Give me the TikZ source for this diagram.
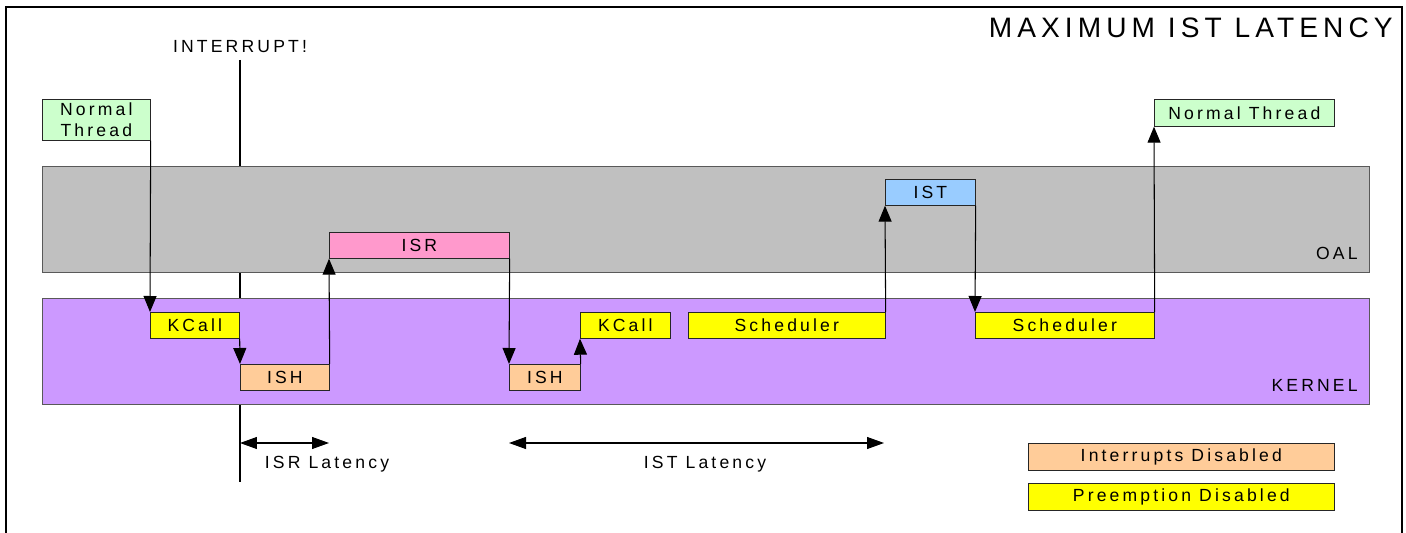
\documentclass[tikz,border=0pt]{standalone}
\usepackage{fontspec}
\setmainfont{Liberation Sans}[LetterSpace=18]
\usepackage{xcolor}
\usepackage{tikz}
\usetikzlibrary{arrows.meta,positioning}

\definecolor{oalgray}{HTML}{C0C0C0}
\definecolor{kernpurple}{HTML}{CC99FF}
\definecolor{preempt}{HTML}{FFFF00}
\definecolor{intoff}{HTML}{FFCC99}
\definecolor{isrpink}{HTML}{FF99CC}
\definecolor{istblue}{HTML}{99CCFF}
\definecolor{thrgreen}{HTML}{CCFFCC}

\begin{document}
\begin{tikzpicture}[x=0.02cm, y=-0.02cm,
  band/.style={rectangle, draw=black!65, anchor=north west, inner sep=0pt, minimum width=26.54cm, minimum height=2.12cm},
  blk/.style={rectangle, draw=black!85, anchor=north west, inner sep=0pt, minimum height=0.52cm, align=center, font=\fontsize{10}{12}\selectfont},
  lbl/.style={inner sep=0pt, font=\fontsize{10}{12}\selectfont},
  arr/.style={-{Triangle[length=0.32cm, width=0.26cm]}, line width=0.6pt},
  span/.style={{Triangle[length=0.34cm, width=0.24cm]}-{Triangle[length=0.34cm, width=0.24cm]}, line width=0.6pt}
]
\useasboundingbox (0,0) rectangle (1406,533);
\draw[line width=0.8pt] (6,533) -- (6,7) -- (1402,7) -- (1402,533);
\node[anchor=east, inner sep=0pt, font=\fontsize{16}{19}\selectfont] (title) at (1393,28) {MAXIMUM IST LATENCY};

\node[lbl] (irq) at (240,47) {INTERRUPT!};
\coordinate (irqtop) at (240,60);
\coordinate (irqbot) at (240,482);
\draw[line width=0.6pt] (irqtop) -- (irqbot);

\node[band, fill=oalgray] (oal) at (42,166) {};
\node[band, fill=kernpurple] (kernel) at (42,298) {};
\node[lbl, anchor=base east] (oallbl) at (1358,260) {OAL};
\node[lbl, anchor=base east] (kernlbl) at (1358,392) {KERNEL};

\node[blk, fill=thrgreen, minimum width=2.16cm, minimum height=0.82cm] (nt1) at (42,99) {Normal\\Thread};
\node[blk, fill=preempt, minimum width=1.78cm] (kc1) at (150,312) {KCall};
\node[blk, fill=intoff, minimum width=1.78cm] (ish1) at (240,364) {ISH};
\node[blk, fill=isrpink, minimum width=3.6cm] (isr) at (329,232) {ISR};
\node[blk, fill=intoff, minimum width=1.42cm] (ish2) at (509,364) {ISH};
\node[blk, fill=preempt, minimum width=1.8cm] (kc2) at (580,312) {KCall};
\node[blk, fill=preempt, minimum width=3.94cm] (sch1) at (688,312) {Scheduler};
\node[blk, fill=istblue, minimum width=1.8cm] (ist) at (885,179) {IST};
\node[blk, fill=preempt, minimum width=3.58cm] (sch2) at (975,312) {Scheduler};
\node[blk, fill=thrgreen, minimum width=3.6cm, minimum height=0.54cm] (nt2) at (1154,99) {Normal Thread};

\draw[arr] (nt1.south east) -- (kc1.north west);
\draw[arr] (kc1.south east) -- (ish1.north west);
\draw[arr] (ish1.north east) -- (isr.south west);
\draw[arr] (isr.south east) -- (ish2.north west);
\draw[arr] (ish2.north east) -- (kc2.south west);
\draw[arr] (sch1.north east) -- (ist.south west);
\draw[arr] (ist.south east) -- (sch2.north west);
\draw[arr] (sch2.north east) -- (nt2.south west);

\coordinate (isrl0) at (240,443);
\coordinate (isrl1) at (329,443);
\coordinate (istl0) at (509,443);
\coordinate (istl1) at (884,443);
\draw[span] (isrl0) -- (isrl1);
\draw[span] (istl0) -- (istl1);
\node[lbl] (isrlat) at (327,464) {ISR Latency};
\node[lbl] (istlat) at (705,464) {IST Latency};

\node[blk, fill=intoff, minimum width=6.12cm, minimum height=0.54cm] (leg1) at (1028,443) {Interrupts Disabled};
\node[blk, fill=preempt, minimum width=6.12cm, minimum height=0.54cm] (leg2) at (1028,483) {Preemption Disabled};
\end{tikzpicture}
\end{document}
